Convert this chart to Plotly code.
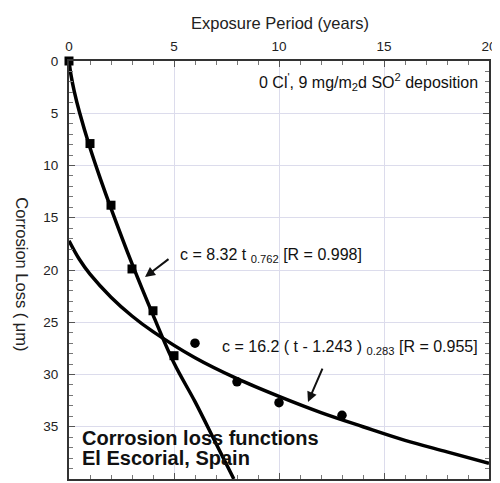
import plotly.graph_objects as go

sq_t = [0, 1, 2, 3, 4, 5]
sq_c = [0, 7.9, 13.8, 19.9, 23.9, 28.2]
ci_t = [6, 8, 10, 13]
ci_c = [27.0, 30.7, 32.7, 33.9]

# Fitted curves
pow_t = [0, 0.1, 0.25, 0.5, 1, 1.5, 2, 3, 4, 5, 6, 7, 7.85]
pow_c = [0, 1.4, 2.9, 4.9, 8.3, 11.3, 14.1, 19.4, 24.3, 28.9, 32.6, 36.6, 40]
log_t = [0, 0.5, 1, 2, 3, 4, 6, 8, 10, 12, 14, 16, 18, 20]
log_c = [17.2, 19.0, 20.4, 22.6, 24.4, 25.9, 28.4, 30.4, 32.1, 33.65, 35.0, 36.3, 37.4, 38.5]

x_ticks = [0, 5, 10, 15, 20]
y_ticks = [0, 5, 10, 15, 20, 25, 30, 35, 40]

FONT = "Arial, Liberation Sans, sans-serif"

fig = go.Figure()
fig.add_trace(go.Scatter(x=pow_t, y=pow_c, mode="lines", line=dict(color="black", width=3.5, shape="spline"),
                         hoverinfo="skip", showlegend=False))
fig.add_trace(go.Scatter(x=log_t, y=log_c, mode="lines", line=dict(color="black", width=3.5, shape="spline"),
                         hoverinfo="skip", showlegend=False))
fig.add_trace(go.Scatter(x=sq_t, y=sq_c, mode="markers", marker=dict(symbol="square", size=9, color="black"),
                         cliponaxis=False, showlegend=False))
fig.add_trace(go.Scatter(x=ci_t, y=ci_c, mode="markers", marker=dict(symbol="circle", size=9.5, color="black"),
                         cliponaxis=False, showlegend=False))

axis_common = dict(showline=True, linecolor="#333333", linewidth=2, mirror="ticks",
                   ticks="inside", ticklen=6, tickcolor="#555555",
                   showgrid=True, gridcolor="#dcdcec", gridwidth=1, zeroline=False,
                   automargin=False,
                   tickfont=dict(family=FONT, size=13.5, color="#222222"))

fig.update_xaxes(range=[0, 20], side="top", tickvals=x_ticks, ticklabelstandoff=3,
                 minor=dict(dtick=1, ticks="inside", ticklen=4, tickcolor="#777777", showgrid=False),
                 **axis_common)
fig.update_yaxes(range=[40, 0], tickvals=y_ticks, ticklabelstandoff=6,
                 minor=dict(dtick=1, ticks="inside", ticklen=4, tickcolor="#777777", showgrid=False),
                 **axis_common)

ann_font = dict(family=FONT, size=16, color="#111111")
annotations = [
    dict(x=0.502, y=1.0, xref="paper", yref="paper", yshift=38, yanchor="middle", xanchor="center",
         text="Exposure Period (years)",
         showarrow=False, font=dict(family=FONT, size=16.5, color="#222222")),
    dict(x=-0.112, y=0.49, xref="paper", yref="paper", xanchor="center", yanchor="middle",
         text="Corrosion Loss ( μm)", textangle=90,
         showarrow=False, font=dict(family=FONT, size=16.5, color="#222222")),
    dict(x=19.57, y=2.0, xref="x", yref="y", xanchor="right", yanchor="middle",
         text="0 Cl<sup>'</sup>, 9 mg/m<sub>2</sub>d SO<sup>2</sup> deposition",
         showarrow=False, font=ann_font),
    dict(x=5.19, y=18.6, xref="x", yref="y", xanchor="left", yanchor="middle",
         text="c = 8.32 t <sub>0.762</sub> [R = 0.998]", showarrow=False, font=ann_font),
    dict(x=7.19, y=27.4, xref="x", yref="y", xanchor="left", yanchor="middle",
         text="c = 16.2 ( t - 1.243 ) <sub>0.283</sub> [R = 0.955]", showarrow=False, font=ann_font),
    dict(x=3.62, y=20.67, xref="x", yref="y", ax=4.81, ay=18.85, axref="x", ayref="y", text="",
         showarrow=True, arrowhead=2, arrowsize=1, arrowwidth=2, arrowcolor="#111111"),
    dict(x=11.38, y=32.63, xref="x", yref="y", ax=12.1, ay=29.3, axref="x", ayref="y", text="",
         showarrow=True, arrowhead=2, arrowsize=1, arrowwidth=2, arrowcolor="#111111"),
    dict(x=0.52, y=36.1, xref="x", yref="y", xanchor="left", yanchor="middle",
         text="<b>Corrosion loss functions</b>", showarrow=False,
         font=dict(family=FONT, size=20, color="#111111")),
    dict(x=0.52, y=38.0, xref="x", yref="y", xanchor="left", yanchor="middle",
         text="<b>El Escorial, Spain</b>", showarrow=False,
         font=dict(family=FONT, size=20, color="#111111")),
]

# the page body adds an 8 px offset, so the figure is sized to fill the rest of the window
fig.update_layout(width=492, height=475, margin=dict(l=61, r=11, t=53, b=4),
                  paper_bgcolor="white", plot_bgcolor="white",
                  annotations=annotations, showlegend=False)

fig.write_html("out.html")
